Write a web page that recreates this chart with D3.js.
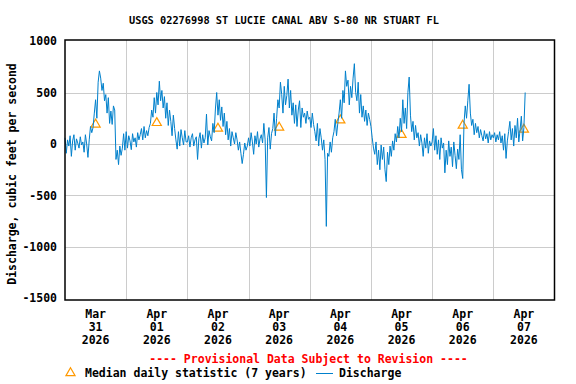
<!DOCTYPE html>
<html lang="en">
<head>
<meta charset="UTF-8">
<title>USGS 02276998 Discharge</title>
<script src="https://d3js.org/d3.v7.min.js"></script>
<style>
    body { margin: 0; background: #fff; }
    text { font-family: "DejaVu Sans Mono", monospace; font-weight: bold; }
</style>
</head>
<body>
<script>
// Discharge, half-hourly readings per day (cfs)
const mar31 = [60, -90, 40, -20, 80, -120, 30, 90, -60, 50, 10, -40, 70, -10, 20, -80, 90, 0, -130,
    40, 170, 110, 160, 300, 430, 250, 600, 710, 640, 520, 590, 420, 480, 300, 450,
    200, 320, 190, 370, 330, -150, -60, -200, -20, -110, -40, 100, -60];
const apr01 = [120, -40, 80, 30, -55, 100, 20, 60, -30, 110, 40, 90, 150, 40, 170, 60, 130, 80, 160,
    200, 330, 260, 450, 300, 500, 380, 610, 420, 520, 350, 460, 250, 400, 180, 330,
    220, 80, 280, 150, 40, -50, 120, -20, 140, 60, -10, 130, 20];
const apr02 = [20, 80, -30, 60, 100, -20, 40, 70, -150, 50, 110, -40, 90, 10, 60,
    290, -10, 130, 70, 30, 200, 110, 340, 500, 280, 430, 230, 360, 170, 300, 90, 220, 40,
    150, -20, 120, 60, 0, 110, 40, -60, 20, -90, -190, -100, 10, -60, -20];
const apr03 = [60, -20, 110, 20, -100, 80, 0, 120, -30, 50, 90, 10, 200, 40, -520,
    60, 160, -50, 100, 150, 300, 80, 250, 430, 350, 600, 480, 300, 560, 380, 470,
    630, 350, 520, 280, 400, 200, 380, 170, 330, 420, 160, 350, 260, 300, 200, 320, 240];
const apr04 = [260, 160, 300, 190, 120, 30, 200, -20, 150, 60, -60, 40, -150, -800, -90,
    -120, 20, -80, 60, 120, 240, 80, 200, 300, 430, 250, 520, 400, 710, 560, 620,
    380, 560, 450, 640, 780, 500, 420, 600, 300, 480, 260, 370, 220, 330, 180, 300, 240];
const apr05 = [170, 60, -40, -100, 20, -200, -60, -250, -10, -150, -30, -250, -365, -80,
    -200, -20, -120, 30, -60, 100, 20, 170, 60, 250, 120, 430, 200, 350, 150, 500, 650,
    280, 120, 220, 40, 180, 60, 110, -20, 90, 10, -120, 60, -40, 100, -90, 30, -20];
const apr06 = [20, 150, -60, 80, -100, 40, -150, 60, -40, 10, -280, -60, -200, 30, -120,
    -30, -220, 20, -110, -240, -50, -150, 90, -250, -335, 200, 370, 250, 420, 580, 300, 180,
    240, 90, 200, 110, 170, 60, 140, 80, 30, 130, 50, 100, 10, 120, 40, 90];
const apr07 = [60, 110, 20, 90, 40, 120, 10, 80, -60, 100, -140, 30, 120, 220, 40, 150, -20,
    180, 60, 250, 20, 140, 270, 30, 160, 500];

const dayValues = [mar31, apr01, apr02, apr03, apr04, apr05, apr06, apr07];

// Median daily statistic (7 years), one per day at noon
const medianValues = [190, 205, 150, 160, 230, 90, 180, 140];

// Axis labels
const dayLabels = [["Mar", "31", "2026"], ["Apr", "01", "2026"], ["Apr", "02", "2026"], ["Apr", "03", "2026"],
    ["Apr", "04", "2026"], ["Apr", "05", "2026"], ["Apr", "06", "2026"], ["Apr", "07", "2026"]];
const yTicks = [1000, 500, 0, -500, -1000, -1500];

const width = 576, height = 384;
const start = Date.UTC(2026, 2, 31);
const DAY = 864e5;

const svg = d3.select("body").append("svg")
    .attr("width", width)
    .attr("height", height);

const x = d3.scaleUtc()
    .domain([new Date(start), new Date(start + 8 * DAY)])
    .range([65, 554.5]);

const y = d3.scaleLinear()
    .domain([-1515, 1010])
    .range([300, 40]);

// flatten half-hourly series
const series = [];
dayValues.forEach((vals, i) => {
    vals.forEach((v, j) => {
        series.push({ t: new Date(start + i * DAY + j * DAY / 48), v: v });
    });
});

const medians = medianValues.map((v, i) => ({ t: new Date(start + i * DAY + DAY / 2), v: v }));

// grid
const days = d3.range(1, 8).map(i => new Date(start + i * DAY));
svg.append("g")
    .selectAll("line")
    .data(days)
    .join("line")
    .attr("x1", d => Math.round(x(d)) + 0.5)
    .attr("x2", d => Math.round(x(d)) + 0.5)
    .attr("y1", y.range()[1])
    .attr("y2", y.range()[0])
    .attr("stroke", "#cccccc")
    .attr("stroke-width", 1);

svg.append("g")
    .selectAll("line")
    .data([500, 0, -500, -1000])
    .join("line")
    .attr("x1", x.range()[0])
    .attr("x2", x.range()[1])
    .attr("y1", d => Math.round(y(d)) + 0.5)
    .attr("y2", d => Math.round(y(d)) + 0.5)
    .attr("stroke", "#cccccc")
    .attr("stroke-width", 1);

// median triangles (drawn under the line)
const tri = d3.symbol().type(d3.symbolTriangle).size(36);
svg.append("g")
    .selectAll("path")
    .data(medians)
    .join("path")
    .attr("transform", d => `translate(${x(d.t)},${y(d.v)})`)
    .attr("d", tri)
    .attr("fill", "none")
    .attr("stroke", "#ff9900")
    .attr("stroke-width", 1.2);

// discharge line
const line = d3.line()
    .x(d => x(d.t))
    .y(d => y(d.v));

svg.append("path")
    .datum(series)
    .attr("d", line)
    .attr("fill", "none")
    .attr("stroke", "#0080cc")
    .attr("stroke-width", 1);

// frame
svg.append("rect")
    .attr("x", x.range()[0])
    .attr("y", y.range()[1])
    .attr("width", x.range()[1] - x.range()[0])
    .attr("height", y.range()[0] - y.range()[1])
    .attr("fill", "none")
    .attr("stroke", "#000")
    .attr("stroke-width", 1.5);

// y tick labels
svg.append("g")
    .selectAll("text")
    .data(yTicks)
    .join("text")
    .attr("x", 57)
    .attr("y", d => y(d))
    .attr("dy", "0.35em")
    .attr("text-anchor", "end")
    .style("font-size", "11.5px")
    .text(d => d);

// x labels, three lines centred at noon
const xl = svg.append("g")
    .selectAll("text")
    .data(dayLabels)
    .join("text")
    .attr("text-anchor", "middle")
    .style("font-size", "11.5px");
xl.each(function (d, i) {
    const cx = x(new Date(start + i * DAY + DAY / 2));
    d3.select(this).selectAll("tspan")
        .data(d)
        .join("tspan")
        .attr("x", cx)
        .attr("y", (t, k) => 318 + k * 13)
        .text(t => t);
});

// y axis title
svg.append("text")
    .attr("transform", `translate(16, 174) rotate(-90)`)
    .attr("text-anchor", "middle")
    .style("font-size", "11.5px")
    .text("Discharge, cubic feet per second");

// title
svg.append("text")
    .attr("x", 284)
    .attr("y", 24)
    .attr("text-anchor", "middle")
    .style("font-size", "10.3px")
    .text("USGS 02276998 ST LUCIE CANAL ABV S-80 NR STUART FL");

svg.append("text")
    .attr("x", 308.5)
    .attr("y", 363)
    .attr("text-anchor", "middle")
    .attr("fill", "#ff0000")
    .style("font-size", "11.5px")
    .text("---- Provisional Data Subject to Revision ----");

// legend
const legend = svg.append("g").attr("transform", "translate(0, 373)");
legend.append("path")
    .attr("transform", "translate(70.5, 0)")
    .attr("d", tri)
    .attr("fill", "none")
    .attr("stroke", "#ff9900")
    .attr("stroke-width", 1.2);
legend.append("text")
    .attr("x", 85)
    .attr("y", 4)
    .style("font-size", "11.5px")
    .text("Median daily statistic (7 years)");
legend.append("line")
    .attr("x1", 316).attr("x2", 333)
    .attr("y1", 0.5).attr("y2", 0.5)
    .attr("stroke", "#0080cc")
    .attr("stroke-width", 1);
legend.append("text")
    .attr("x", 339)
    .attr("y", 4)
    .style("font-size", "11.5px")
    .text("Discharge");
</script>
</body>
</html>
